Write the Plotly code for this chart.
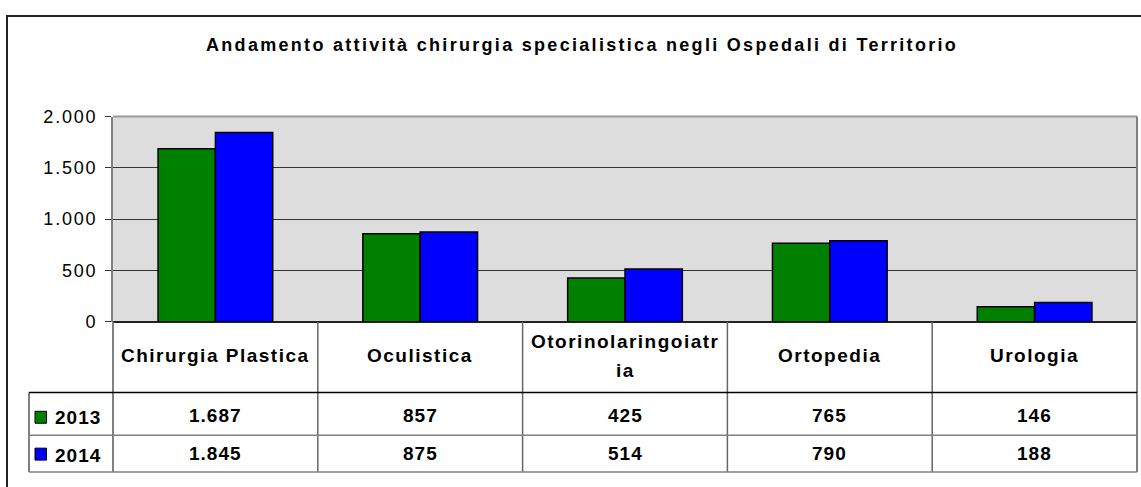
import plotly.graph_objects as go

# ---- data ----
title_text = "Andamento attività chirurgia specialistica negli Ospedali di Territorio"
categories = ["Chirurgia Plastica", "Oculistica", "Otorinolaringoiatria", "Ortopedia", "Urologia"]
category_label_lines = [["Chirurgia Plastica"], ["Oculistica"], ["Otorinolaringoiatr", "ia"], ["Ortopedia"], ["Urologia"]]
series_names = ["2013", "2014"]
values_2013 = [1687, 857, 425, 765, 146]
values_2014 = [1845, 875, 514, 790, 188]
tick_values = [0, 500, 1000, 1500, 2000]
colors = ["#008000", "#0000FF"]

W, H = 1141, 487
FONT = "Arial, 'Liberation Sans', sans-serif"

# the photographed page maps page-y to picture-y as  y_pic = 9 + 0.963 * y_page
OFF, SC = 9.0, 0.963


def px(x):
    return x / W


def py(y_pic):
    return 1 - ((y_pic - OFF) / SC) / H


def spaced(t, sp):
    return '<span style="letter-spacing:%spx">%s</span>' % (sp, t)


def fmt(v):
    return f"{v:,}".replace(",", ".")


# layout geometry (picture pixels)
PL, PR, PT, PB = 113, 1137, 116, 322
ROW1, ROW2, ROW3 = 393, 436, 473
LEGX = 29

fig = go.Figure()
for name, vals, col in zip(series_names, [values_2013, values_2014], colors):
    fig.add_trace(go.Bar(
        x=categories, y=vals, name=name,
        marker=dict(color=col, line=dict(color="black", width=1.5)),
        showlegend=False, hoverinfo="x+y",
    ))

shapes = []
annotations = []

# outer chart border (clipped at right/bottom as in reference)
shapes.append(dict(type="rect", xref="paper", yref="paper",
                   x0=px(7), x1=px(1160), y0=py(15), y1=-0.1,
                   line=dict(color="#222222", width=2)))

# table lines
ncat = len(categories)
cw = (PR - PL) / ncat
gray = "#808080"
for k in range(ncat + 1):
    xx = PL + k * cw
    edge = k in (0, ncat)
    shapes.append(dict(type="line", xref="paper", yref="paper",
                       x0=px(xx), x1=px(xx), y0=py(PB), y1=py(ROW3),
                       line=dict(color=gray if edge else "#666666", width=2 if edge else 1.5)))
shapes.append(dict(type="line", xref="paper", yref="paper",
                   x0=px(LEGX), x1=px(LEGX), y0=py(ROW1), y1=py(ROW3),
                   line=dict(color=gray, width=2)))
shapes.append(dict(type="line", xref="paper", yref="paper",
                   x0=px(LEGX), x1=px(PR), y0=py(ROW1), y1=py(ROW1),
                   line=dict(color="black", width=1.5)))
for yy in (ROW2, ROW3):
    shapes.append(dict(type="line", xref="paper", yref="paper",
                       x0=px(LEGX), x1=px(PR), y0=py(yy), y1=py(yy),
                       line=dict(color=gray, width=1.5)))

# header labels
for k, lines in enumerate(category_label_lines):
    cx = PL + (k + 0.5) * cw
    if len(lines) == 1:
        ys = [356]
    else:
        ys = [342, 371]
    for txt, yy in zip(lines, ys):
        annotations.append(dict(xref="paper", yref="paper", x=px(cx), y=py(yy),
                                text="<b>" + spaced(txt, 1.5) + "</b>",
                                showarrow=False, xanchor="center", yanchor="middle",
                                font=dict(family=FONT, size=19, color="black")))

row_text_y = [416, 454.5]
row_key_y = [(412, 424), (449, 461)]
for r, (name, vals, col) in enumerate(zip(series_names, [values_2013, values_2014], colors)):
    yc = row_text_y[r]
    for k, v in enumerate(vals):
        cx = PL + (k + 0.5) * cw
        annotations.append(dict(xref="paper", yref="paper", x=px(cx), y=py(yc),
                                text="<b>" + spaced(fmt(v), 1) + "</b>", showarrow=False,
                                xanchor="center", yanchor="middle",
                                font=dict(family=FONT, size=19, color="black")))
    # legend key
    k0, k1 = row_key_y[r]
    shapes.append(dict(type="rect", xref="paper", yref="paper",
                       x0=px(35), x1=px(46.5), y0=py(k1), y1=py(k0),
                       fillcolor=col, line=dict(color="black", width=1)))
    annotations.append(dict(xref="paper", yref="paper", x=px(53), y=py(yc + 2),
                            text="<b>" + spaced(name, 1) + "</b>", showarrow=False,
                            xanchor="left", yanchor="middle",
                            font=dict(family=FONT, size=19, color="black")))

# title
annotations.append(dict(xref="paper", yref="paper", x=px(582), y=py(44),
                        text="<b>" + spaced(title_text, 2.3) + "</b>", showarrow=False,
                        xanchor="center", yanchor="middle",
                        font=dict(family=FONT, size=18, color="black")))

fig.update_layout(
    width=W, height=H,
    margin=dict(l=0, r=0, t=0, b=0),
    paper_bgcolor="white",
    plot_bgcolor="#DDDDDD",
    barmode="group", bargap=0.44, bargroupgap=0,
    shapes=shapes, annotations=annotations,
    xaxis=dict(domain=[px(PL), px(PR)], showticklabels=False, ticks="",
               showline=False, showgrid=False, zeroline=False),
    yaxis=dict(domain=[py(PB), py(PT)], range=[0, 2000],
               tickvals=tick_values, ticktext=[spaced(fmt(v), 1.8) for v in tick_values],
               ticks="outside", ticklen=6, tickcolor="#333333", tickwidth=1,
               ticklabelstandoff=4,
               showgrid=True, gridcolor="#333333", gridwidth=1,
               zeroline=True, zerolinecolor="#222222", zerolinewidth=2,
               showline=True, linecolor=gray, linewidth=2, mirror=False,
               tickfont=dict(family=FONT, size=18, color="black")),
)
# plot area border (top and right)
fig.add_shape(type="line", xref="paper", yref="paper", x0=px(PL), x1=px(PR), y0=py(PT), y1=py(PT),
              line=dict(color="#999999", width=2))
fig.add_shape(type="line", xref="paper", yref="paper", x0=px(PR), x1=px(PR), y0=py(PT), y1=py(PB),
              line=dict(color=gray, width=2))

fig.write_html("out.html", config={"displayModeBar": False},
               post_script="document.body.style.margin='0';")
